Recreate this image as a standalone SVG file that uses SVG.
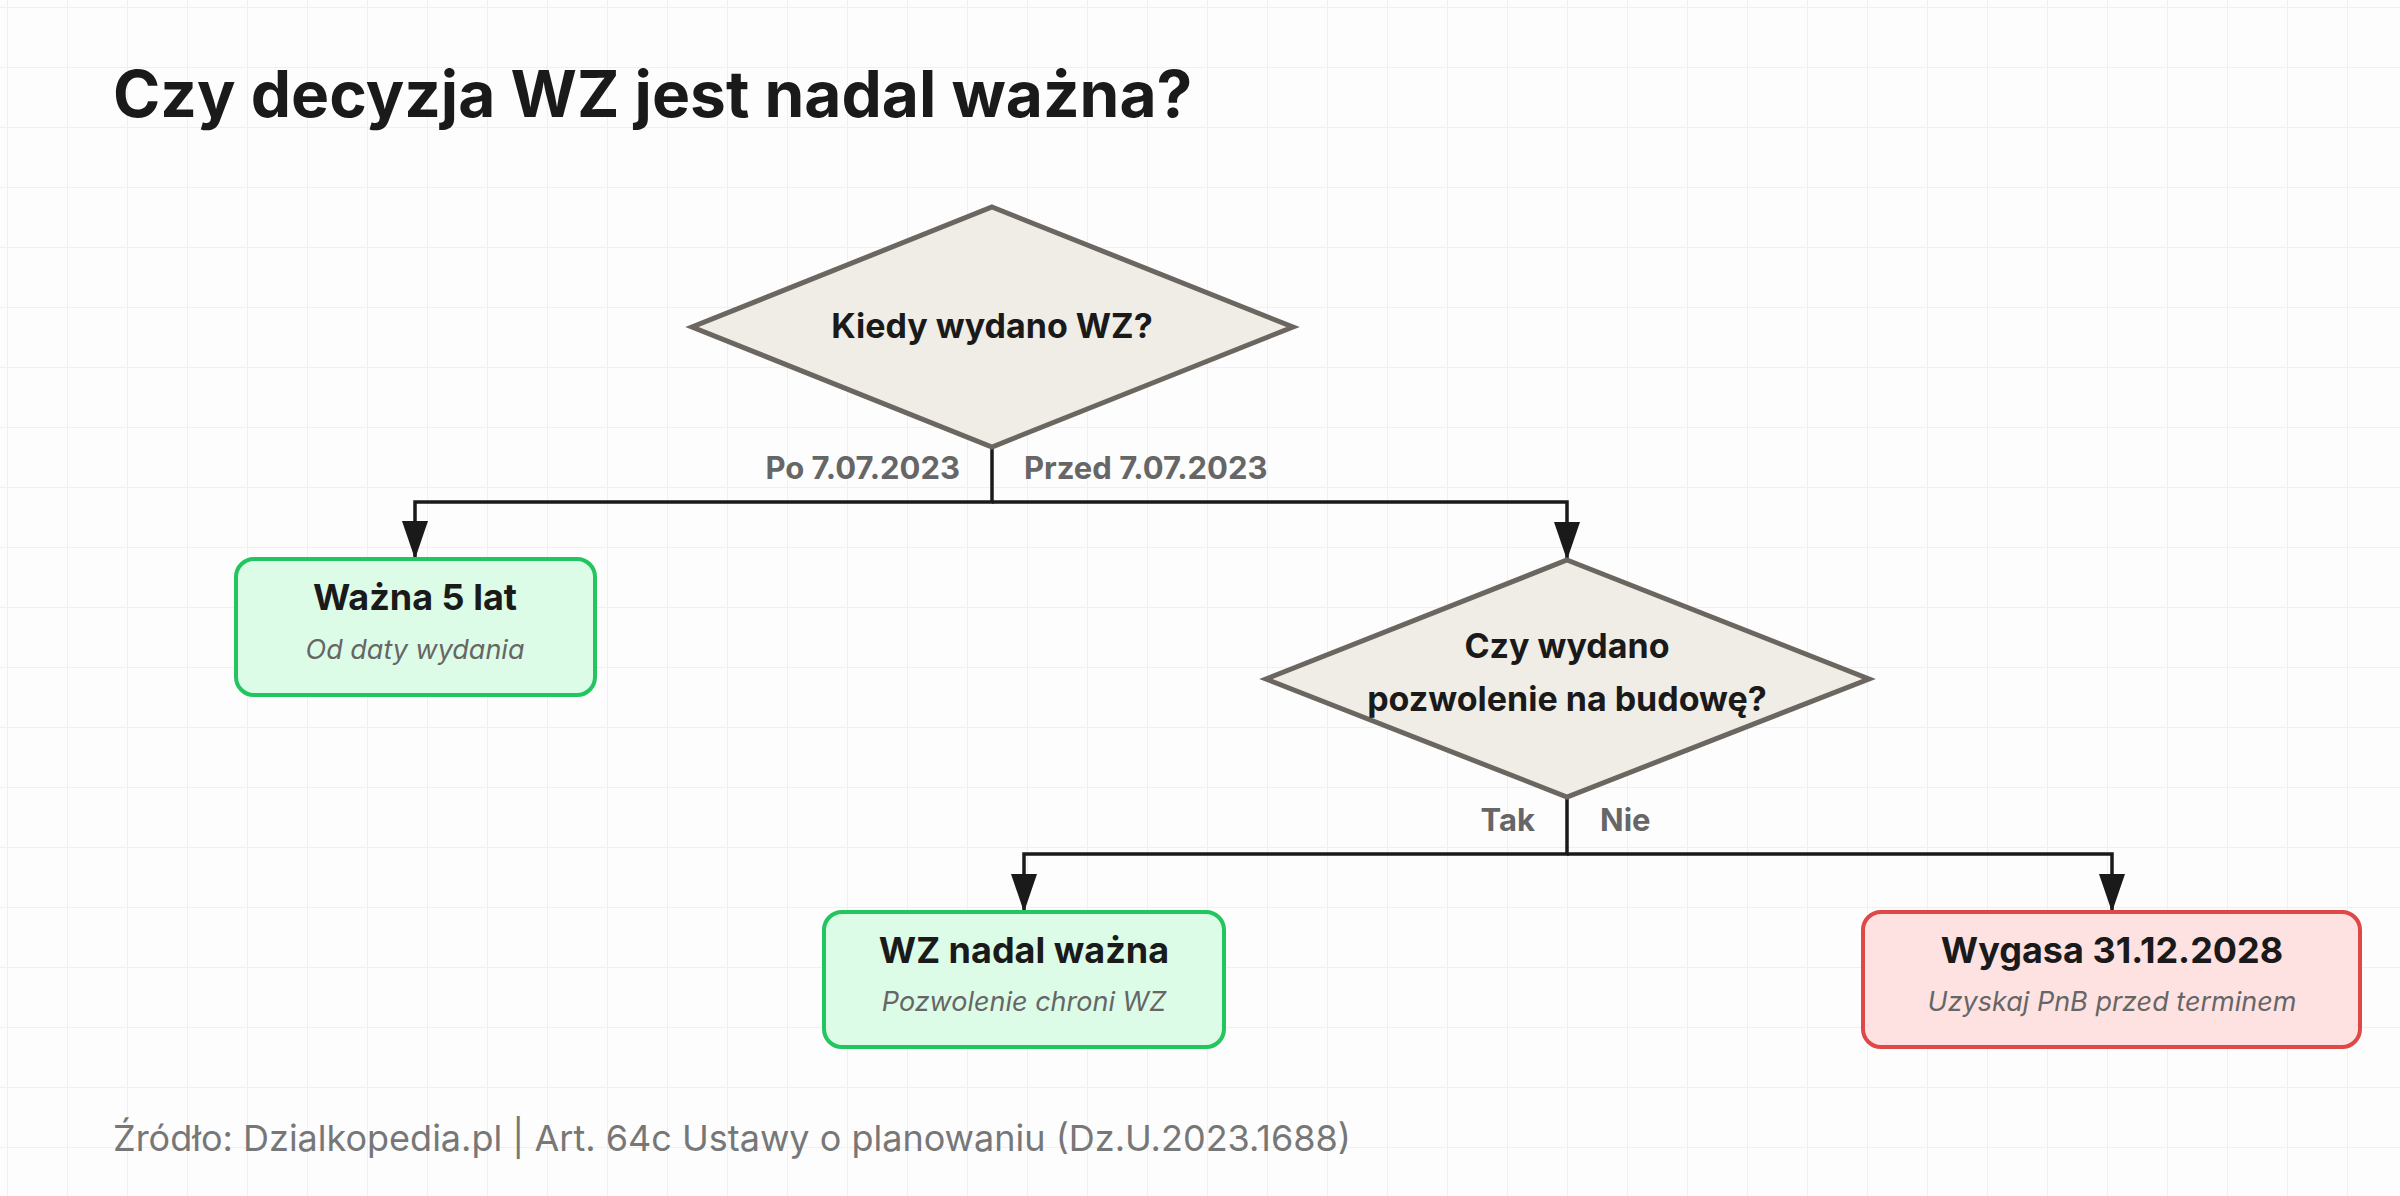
<svg xmlns="http://www.w3.org/2000/svg" width="2400" height="1196" viewBox="0 0 2400 1196">
<defs>
<pattern id="grid" width="60" height="60" patternUnits="userSpaceOnUse" x="8" y="8">
<path d="M60 0V60M0 60H60" fill="none" stroke="#f0f0f0" stroke-width="2"/>
</pattern>
<marker id="arr" viewBox="0 0 38 26" refX="38" refY="13" markerWidth="38" markerHeight="26" markerUnits="userSpaceOnUse" orient="auto">
<path d="M0 0L38 13L0 26Z" fill="#1a1a1a"/>
</marker>
<style>
text{font-family:Inter,"Liberation Sans",sans-serif}
.dia{fill:#f0ede6;stroke:#6b6660;stroke-width:5}
.ok{fill:#dcfce7;stroke:#22c55e;stroke-width:4}
.bad{fill:#fee2e2;stroke:#e04848;stroke-width:4}
.t{font-weight:700;font-size:36px;fill:#1a1a1a;text-anchor:middle}
.s{font-style:italic;font-size:27px;fill:#666;text-anchor:middle}
.q{font-weight:700;font-size:34px;fill:#1a1a1a;text-anchor:middle}
.l{font-weight:700;font-size:31px;fill:#666}
.c{fill:none;stroke:#1a1a1a;stroke-width:3.5}
</style>
</defs>
<rect width="2400" height="1196" fill="#fdfdfd"/>
<rect width="2400" height="1196" fill="url(#grid)"/>
<text x="113" y="117" font-weight="700" font-size="64" fill="#1a1a1a">Czy decyzja WZ jest nadal ważna?</text>
<g id="connectors">
<path class="c" d="M992 447V502H415V559" marker-end="url(#arr)"/>
<path class="c" d="M992 502H1567V560" marker-end="url(#arr)"/>
<path class="c" d="M1567 797V854H1024V912" marker-end="url(#arr)"/>
<path class="c" d="M1567 854H2112V912" marker-end="url(#arr)"/>
<text class="l" x="960" y="479" text-anchor="end">Po 7.07.2023</text>
<text class="l" x="1024" y="479">Przed 7.07.2023</text>
<text class="l" x="1535" y="831" text-anchor="end">Tak</text>
<text class="l" x="1600" y="831">Nie</text>
</g>
<g id="q1">
<polygon class="dia" points="992,207 1293,327 992,447 692,327"/>
<text class="q" x="992" y="338">Kiedy wydano WZ?</text>
</g>
<g id="r1">
<rect class="ok" x="236" y="559" width="359" height="136" rx="18"/>
<text class="t" x="415" y="610">Ważna 5 lat</text>
<text class="s" x="415" y="659">Od daty wydania</text>
</g>
<g id="q2">
<polygon class="dia" points="1567,560 1869,679 1567,797 1266,679"/>
<text class="q" x="1567" y="658">Czy wydano</text>
<text class="q" x="1567" y="711">pozwolenie na budowę?</text>
</g>
<g id="r2">
<rect class="ok" x="824" y="912" width="400" height="135" rx="18"/>
<text class="t" x="1024" y="963">WZ nadal ważna</text>
<text class="s" x="1024" y="1011">Pozwolenie chroni WZ</text>
</g>
<g id="r3">
<rect class="bad" x="1863" y="912" width="497" height="135" rx="18"/>
<text class="t" x="2112" y="963">Wygasa 31.12.2028</text>
<text class="s" x="2112" y="1011">Uzyskaj PnB przed terminem</text>
</g>
<text x="113" y="1151" font-size="36" fill="#777">Źródło: Dzialkopedia.pl | Art. 64c Ustawy o planowaniu (Dz.U.2023.1688)</text>
</svg>
